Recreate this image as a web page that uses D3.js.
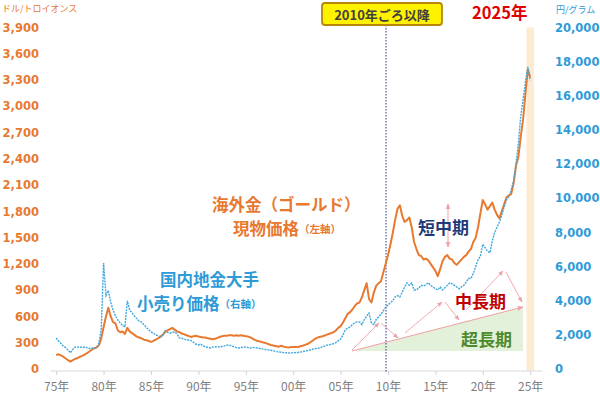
<!DOCTYPE html>
<html><head><meta charset="utf-8">
<script src="https://cdn.jsdelivr.net/npm/d3@7"></script>
<style>
html,body{margin:0;padding:0;background:#fff;}
svg{display:block;}
text{font-family:"Noto Sans CJK JP","Noto Sans",sans-serif;}
.num{font-family:"DejaVu Sans",Verdana,sans-serif;font-weight:bold;font-size:11px;}
</style></head>
<body>
<svg id="c" width="600" height="399"></svg>
<script>
// ---- data (quarterly, chart time starting 1975.0) ----
const startYear = 1975;
const stepYears = 0.25;
// 海外金 現物価格 (USD / troy oz)
const goldUsd = [
 160,168,155,140, 120,100,85,100, 115,125,140,150, 165,180,200,220, 235,245,270,350,
 480,600,700,600, 535,520,440,420, 430,400,470,430, 410,390,370,360, 350,335,330,320,
 310,320,335,350, 370,390,425,440, 455,470,450,430, 420,405,395,385, 375,365,375,380,
 370,365,360,360, 350,345,340,345, 355,365,375,380, 380,385,385,380, 385,380,385,380,
 375,370,360,345, 330,320,315,305, 300,290,280,270, 265,260,255,265, 255,250,245,250,
 250,255,250,260, 265,275,285,300, 320,340,355,365, 370,380,390,400, 410,420,440,470,
 490,530,580,630, 650,680,720,750, 760,820,900,980, 800,760,870,950, 980,1000,1100,1200,
 1300,1420,1550,1700, 1830,1870,1750,1680, 1700,1730,1620,1450, 1370,1300,1290,1250, 1260,1240,1200,1160,
 1120,1060,1140,1230, 1280,1300,1260,1250, 1210,1190,1220,1250, 1280,1300,1340,1370, 1450,1500,1620,1780,
 1930,1880,1820,1860, 1900,1820,1760,1720, 1800,1880,1960,1980, 2000,2120,2320,2420, 2650,2850,3150,3420,
 3330
];
// 国内地金大手 小売り価格 (円 / g)
const goldJpy = [
 1820,1640,1500,1350, 1250,1100,950,1150, 1290,1280,1300,1250, 1290,1250,1200,1230, 1200,1250,1500,2300,
 6200,4300,4600,3900, 3450,3100,2870,2700, 2550,2460,4000,3450, 3300,3100,2950,2800, 2750,2600,2450,2300,
 2170,2100,2000,1950, 1880,2000,2250,2150, 2100,2150,2170,2050, 1820,1800,1750,1700, 1700,1650,1550,1450,
 1410,1450,1350,1300, 1260,1230,1280,1300, 1300,1290,1320,1350, 1400,1410,1350,1300, 1250,1230,1260,1280,
 1290,1250,1230,1250, 1260,1230,1200,1180, 1150,1120,1110,1080, 1050,1020,1000,980, 960,950,940,945,
 950,960,965,990, 1020,1050,1080,1110, 1150,1180,1210,1230, 1280,1330,1380,1410, 1450,1480,1550,1650,
 1750,2000,2300,2400, 2460,2600,2700,2760, 2760,2600,2900,3100, 3280,2700,2600,2900, 3050,3200,3400,3600,
 3750,3870,4000,4220, 4300,4220,4500,4800, 5040,4900,5040,4630, 4630,4750,4900,4850, 4950,5040,4900,4800,
 4700,4630,4800,4630, 4750,4900,5040,5000, 4900,4800,4700,4810, 4900,5100,5300,5300, 5600,6000,6400,6600,
 7300,7100,6900,6800, 7500,8000,8300,8600, 9000,9500,9900,10100, 10500,11000,12000,13200, 14800,15800,16800,17700,
 16900
];
const xTickYears = [1975,1980,1985,1990,1995,2000,2005,2010,2015,2020,2025];
const xTickLabels = ["75年","80年","85年","90年","95年","00年","05年","10年","15年","20年","25年"];
const leftTicks = [0,300,600,900,1200,1500,1800,2100,2400,2700,3000,3300,3600,3900];
const rightTicks = [0,2000,4000,6000,8000,10000,12000,14000,16000,18000,20000];
const markerYear = 2010;
const bandYears = [2024.6, 2025.4];

// ---- colors ----
const cOrange = "#E8792F", cBlue = "#3EA7DE", cPink = "#F0A0A6";

const svg = d3.select("#c");
const x = d3.scaleLinear().domain([1975,2025]).range([56.2,530.2]);
const yL = d3.scaleLinear().domain([0,3900]).range([369,27.5]);
const yR = d3.scaleLinear().domain([0,20000]).range([369,27.5]);

const usd = goldUsd.map((v,i)=>({t:startYear+i*stepYears, v}));
const jpy = goldJpy.map((v,i)=>({t:startYear+i*stepYears, v}));

// defs: arrowheads
const defs = svg.append("defs");
defs.append("marker").attr("id","ah").attr("viewBox","0 0 10 10").attr("refX",9).attr("refY",5)
  .attr("markerWidth",6).attr("markerHeight",6).attr("orient","auto-start-reverse")
  .append("path").attr("d","M0,1 L10,5 L0,9 z").attr("fill",cPink);

// 2025 band
svg.append("rect").attr("x",x(bandYears[0])).attr("width",x(bandYears[1])-x(bandYears[0]))
  .attr("y",yL(3900)).attr("height",yL(0)-yL(3900)+2).attr("fill","#FDEBD4");

// green triangle (超長期)
svg.append("path").attr("d","M352,351 L523,307 L523,351 Z").attr("fill","#E3F0DA");
svg.append("line").attr("x1",352).attr("y1",351).attr("x2",523).attr("y2",307)
  .attr("stroke",cPink).attr("stroke-width",1).attr("marker-end","url(#ah)");

// 中長期 zigzag arrows
const zig = [[352,350,379,323],[381,323,398,338],[405,333,442,302],[445,302,459,320],[466,310,503,271],[506,272,522,302]];
svg.append("g").selectAll("line").data(zig).join("line")
  .attr("x1",d=>d[0]).attr("y1",d=>d[1]).attr("x2",d=>d[2]).attr("y2",d=>d[3])
  .attr("stroke",cPink).attr("stroke-width",0.9).attr("marker-end","url(#ah)");

// 短中期 double arrow
svg.append("line").attr("x1",448).attr("y1",204).attr("x2",448).attr("y2",247)
  .attr("stroke",cPink).attr("stroke-width",1)
  .attr("marker-start","url(#ah)").attr("marker-end","url(#ah)");

// x axis
const xAxis = d3.axisBottom(x).tickValues(xTickYears).tickFormat((d,i)=>xTickLabels[i]).tickSize(4).tickSizeOuter(0);
const gx = svg.append("g").attr("transform","translate(0,371)").call(xAxis);
gx.select(".domain").remove();
gx.selectAll(".tick line").attr("stroke","#D0D0D0");
gx.selectAll(".tick text").attr("fill","#7F7F7F").attr("font-size",12)
  .attr("font-family","'Noto Sans CJK JP',sans-serif").attr("dy","1.1em");
svg.append("line").attr("x1",x(1974.4)).attr("x2",x(2026.3)).attr("y1",371).attr("y2",371)
  .attr("stroke","#D9D9D9").attr("stroke-width",1);

// left axis labels
const gl = svg.append("g").attr("transform","translate(39,0)")
  .call(d3.axisLeft(yL).tickValues(leftTicks).tickSize(0).tickPadding(0).tickFormat(d3.format(",")));
gl.select(".domain").remove();
gl.selectAll("text").attr("class","num").attr("fill",cOrange).style("font-size","11.5px");
// right axis labels
const gr = svg.append("g").attr("transform","translate(555,0)")
  .call(d3.axisRight(yR).tickValues(rightTicks).tickSize(0).tickPadding(0).tickFormat(d3.format(",")));
gr.select(".domain").remove();
gr.selectAll("text").attr("class","num").attr("fill","#2E9BD6").style("font-size","11.5px");

// unit labels
svg.append("text").attr("x",2).attr("y",12).attr("font-size",9).attr("fill",cOrange).text("ドル/トロイオンス");
svg.append("text").attr("x",556).attr("y",13).attr("font-size",9).attr("fill","#2E9BD6").text("円/グラム");

// 2010 marker line
svg.append("line").attr("x1",x(markerYear)-2).attr("x2",x(markerYear)-2).attr("y1",25).attr("y2",372)
  .attr("stroke","#2B3A8C").attr("stroke-width",1).attr("stroke-dasharray","1.5,1.5");

// lines
const lineL = d3.line().x(d=>x(d.t)).y(d=>yL(d.v));
const lineR = d3.line().x(d=>x(d.t)).y(d=>yR(d.v));
svg.append("path").datum(usd).attr("d",lineL).attr("fill","none").attr("stroke",cOrange)
  .attr("stroke-width",2).attr("stroke-linejoin","round");
svg.append("path").datum(jpy).attr("d",lineR).attr("fill","none").attr("stroke",cBlue)
  .attr("stroke-width",1.4).attr("stroke-dasharray","2,1");

// 2010 label box
svg.append("rect").attr("x",322).attr("y",3).attr("width",120).attr("height",22).attr("rx",3)
  .attr("fill","#FFF200").attr("stroke","#B8860B").attr("stroke-width",1.8);
svg.append("text").attr("x",382).attr("y",14).attr("text-anchor","middle").attr("dominant-baseline","central")
  .attr("font-size",13).attr("font-weight","bold").attr("fill","#404040").text("2010年ごろ以降");

// 2025年
svg.append("text").attr("x",472).attr("y",12).attr("dominant-baseline","central")
  .attr("font-size",16.5).attr("font-weight","bold").attr("fill","#E00000").text("2025年");

// series annotations
function label(xp,yp,txt,color,small,fs){
  const t = svg.append("text").attr("x",xp).attr("y",yp).attr("dominant-baseline","central")
    .attr("font-size",fs||17).attr("font-weight","bold").attr("fill",color);
  t.append("tspan").text(txt);
  if(small) t.append("tspan").attr("font-size",10.5).text(small);
}
label(212,204,"海外金（ゴールド）",cOrange,null,16.5);
label(233,228,"現物価格",cOrange,"（左軸）",16.5);
label(160,279,"国内地金大手","#2E9BD6",null,16.5);
label(137,303,"小売り価格","#2E9BD6","（右軸）",16.5);
label(418,226,"短中期","#1F3A78");
label(455,300,"中長期","#C00000");
label(461,338,"超長期","#4E8A2A");
</script>
</body></html>
